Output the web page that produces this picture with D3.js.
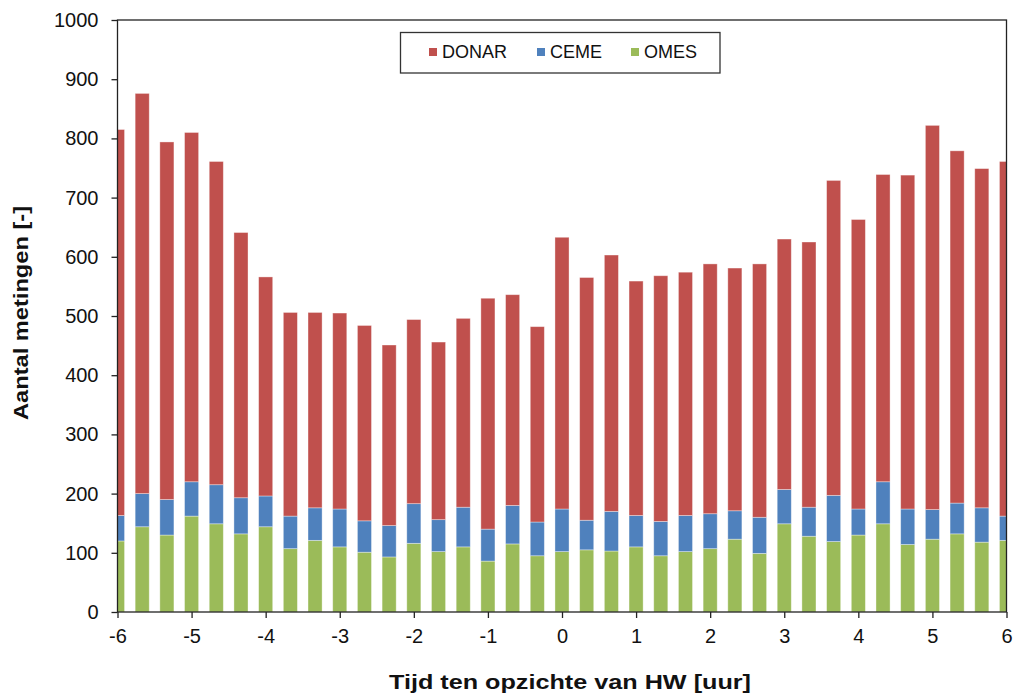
<!DOCTYPE html>
<html>
<head>
<meta charset="utf-8">
<script src="https://cdn.jsdelivr.net/npm/d3@7"></script>
<style>
  body { margin: 0; background: #fff; }
  svg { display: block; font-family: Arial, "Liberation Sans", sans-serif; }
</style>
</head>
<body>
<div id="chart"></div>
<script>
// tijd ten opzichte van HW, in minuten (stappen van 20 min)
const minuten = [-360, -340, -320, -300, -280, -260, -240, -220, -200, -180, -160, -140, -120,
  -100, -80, -60, -40, -20, 0, 20, 40, 60, 80, 100, 120, 140, 160, 180, 200, 220, 240, 260,
  280, 300, 320, 340, 360];

// aantal metingen per bron
const omes = [120, 144, 130, 162, 149, 132, 144, 107, 121, 110, 101, 93, 116,
  102, 110, 86, 115, 95, 102, 105, 103, 110, 95, 102, 107, 123, 99, 149, 128, 119, 130, 149,
  114, 123, 132, 118, 121];
const ceme = [43, 56, 60, 58, 66, 61, 52, 55, 55, 64, 53, 53, 67,
  54, 67, 54, 65, 57, 72, 50, 67, 53, 58, 61, 59, 48, 61, 58, 49, 78, 44, 71,
  60, 50, 52, 58, 41];
const donar = [652, 676, 604, 590, 546, 448, 370, 344, 330, 331, 330, 305, 311,
  300, 319, 390, 356, 330, 459, 410, 433, 396, 415, 411, 422, 410, 428, 423, 448, 532, 489, 519,
  564, 649, 595, 573, 599];

const reeksen = ["DONAR", "CEME", "OMES"];
const kleuren = ["#C0504D", "#4F81BD", "#9BBB59"];
const yTicks = [0, 100, 200, 300, 400, 500, 600, 700, 800, 900, 1000];
const xTicks = [-6, -5, -4, -3, -2, -1, 0, 1, 2, 3, 4, 5, 6];

const width = 1013;
const height = 697;
const plot = { left: 117.5, right: 1006.5, top: 20, bottom: 612 };

const rows = minuten.map((m, i) => ({
  t: m / 60,
  OMES: omes[i],
  CEME: ceme[i],
  DONAR: donar[i]
}));

const colour = d3.scaleOrdinal().domain(reeksen).range(kleuren);

const x = d3.scaleLinear().domain([-6, 6]).range([plot.left, plot.right]);
const y = d3.scaleLinear().domain([0, 1000]).range([plot.bottom, plot.top]);

const stack = d3.stack().keys(["OMES", "CEME", "DONAR"]);
const layers = stack(rows);

const step = x(1 / 3) - x(0);
const barW = step * 0.57;

const svg = d3.select("#chart")
  .append("svg")
  .attr("width", width)
  .attr("height", height);

svg.append("defs").append("clipPath")
  .attr("id", "plotclip")
  .append("rect")
  .attr("x", plot.left)
  .attr("y", plot.top)
  .attr("width", plot.right - plot.left)
  .attr("height", plot.bottom - plot.top);

// bars
const barsG = svg.append("g").attr("clip-path", "url(#plotclip)");
barsG.selectAll("g.layer")
  .data(layers)
  .enter()
  .append("g")
  .attr("class", "layer")
  .attr("fill", d => colour(d.key))
  .selectAll("rect")
  .data(d => d)
  .enter()
  .append("rect")
  .attr("x", d => x(d.data.t) - barW / 2)
  .attr("width", barW)
  .attr("y", d => y(d[1]))
  .attr("height", d => y(d[0]) - y(d[1]))
  .attr("stroke", "rgba(255,255,255,0.45)")
  .attr("stroke-width", 0.8);

// axes
const yAxis = svg.append("g")
  .attr("transform", `translate(${plot.left},0)`)
  .call(d3.axisLeft(y).tickValues(yTicks).tickSize(6).tickSizeOuter(0).tickPadding(13)
    .tickFormat(d => String(d)));

const xAxis = svg.append("g")
  .attr("transform", `translate(0,${plot.bottom})`)
  .call(d3.axisBottom(x).tickValues(xTicks).tickSize(6).tickSizeOuter(0).tickPadding(11)
    .tickFormat(d => String(d)));

[yAxis, xAxis].forEach(a => {
  a.select(".domain").remove();
  a.selectAll("line").attr("stroke", "#222").attr("stroke-width", 1.3);
  a.selectAll("text").attr("fill", "#111").style("font-size", "20px")
    .style("font-family", 'Arial, "Liberation Sans", sans-serif');
});

// plot frame
svg.append("rect")
  .attr("x", plot.left)
  .attr("y", plot.top)
  .attr("width", plot.right - plot.left)
  .attr("height", plot.bottom - plot.top)
  .attr("fill", "none")
  .attr("stroke", "#222")
  .attr("stroke-width", 1.3);

// axis titles
svg.append("text")
  .attr("x", 570)
  .attr("y", 689)
  .attr("text-anchor", "middle")
  .attr("textLength", 362)
  .attr("lengthAdjust", "spacingAndGlyphs")
  .style("font-size", "21px")
  .style("font-weight", "bold")
  .attr("fill", "#111")
  .text("Tijd ten opzichte van HW [uur]");

svg.append("text")
  .attr("transform", "translate(28,313) rotate(-90)")
  .attr("text-anchor", "middle")
  .attr("textLength", 214)
  .attr("lengthAdjust", "spacingAndGlyphs")
  .style("font-size", "21px")
  .style("font-weight", "bold")
  .attr("fill", "#111")
  .text("Aantal metingen [-]");

// legend
const legend = svg.append("g");
legend.append("rect")
  .attr("x", 400.5)
  .attr("y", 32.5)
  .attr("width", 319.5)
  .attr("height", 40.5)
  .attr("fill", "#fff")
  .attr("stroke", "#333")
  .attr("stroke-width", 1.3);

const legendX = [429, 537, 631];
const items = legend.selectAll("g.item")
  .data(reeksen)
  .enter()
  .append("g")
  .attr("class", "item")
  .attr("transform", (d, i) => `translate(${legendX[i]},52)`);

items.append("rect")
  .attr("x", 0)
  .attr("y", -4)
  .attr("width", 8)
  .attr("height", 8)
  .attr("fill", d => colour(d));

items.append("text")
  .attr("x", 13)
  .attr("y", 0)
  .attr("dy", "0.36em")
  .style("font-size", "18px")
  .attr("fill", "#111")
  .text(d => d);
</script>
</body>
</html>
